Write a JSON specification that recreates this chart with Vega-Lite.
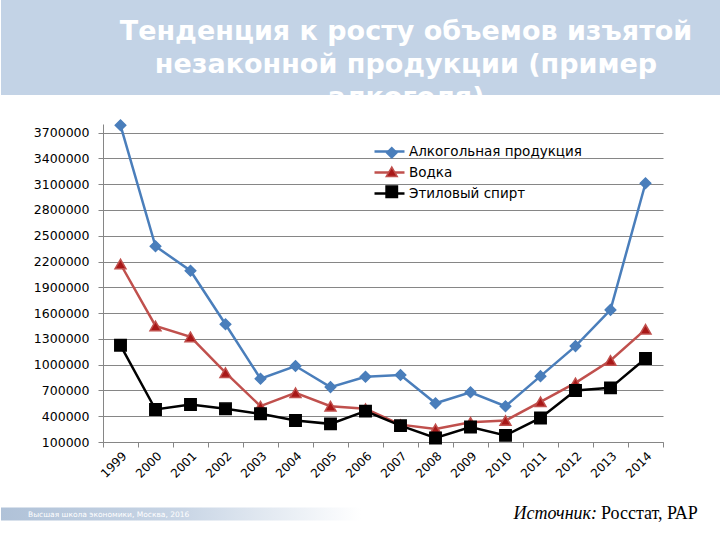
{
  "$schema": "https://vega.github.io/schema/vega-lite/v6.json",
  "padding": 0,
  "background": "#ffffff",
  "spacing": 24.5,
  "bounds": "full",
  "config": {"view": {"stroke": null}, "font": "DejaVu Sans"},
  "vconcat": [
    {
      "spacing": 22,
      "bounds": "full",
      "vconcat": [
        {
          "width": 720,
          "height": 95,
          "view": {"fill": "#c3d3e6", "stroke": null},
          "data": {"values": [{"title": "Тенденция к росту объемов изъятой\nнезаконной продукции (пример\nалкоголя)"}]},
          "mark": {"type": "text", "lineBreak": "\n", "font": "DejaVu Sans", "fontSize": 27, "fontWeight": "bold", "color": "#ffffff", "align": "center", "baseline": "top", "lineHeight": 33, "dx": 45, "dy": -29, "clip": true},
          "encoding": {"text": {"field": "title", "type": "nominal"}}
        },
        {
          "width": 662,
          "height": 318,
          "data": {"values": [
            {"year": "1999", "series": "Алкогольная продукция", "name": "Алкогольная продукция", "value": 3785000},
            {"year": "2000", "series": "Алкогольная продукция", "name": "Алкогольная продукция", "value": 2377000},
            {"year": "2001", "series": "Алкогольная продукция", "name": "Алкогольная продукция", "value": 2093000},
            {"year": "2002", "series": "Алкогольная продукция", "name": "Алкогольная продукция", "value": 1470000},
            {"year": "2003", "series": "Алкогольная продукция", "name": "Алкогольная продукция", "value": 836000},
            {"year": "2004", "series": "Алкогольная продукция", "name": "Алкогольная продукция", "value": 984000},
            {"year": "2005", "series": "Алкогольная продукция", "name": "Алкогольная продукция", "value": 739000},
            {"year": "2006", "series": "Алкогольная продукция", "name": "Алкогольная продукция", "value": 860000},
            {"year": "2007", "series": "Алкогольная продукция", "name": "Алкогольная продукция", "value": 880000},
            {"year": "2008", "series": "Алкогольная продукция", "name": "Алкогольная продукция", "value": 551000},
            {"year": "2009", "series": "Алкогольная продукция", "name": "Алкогольная продукция", "value": 679000},
            {"year": "2010", "series": "Алкогольная продукция", "name": "Алкогольная продукция", "value": 516000},
            {"year": "2011", "series": "Алкогольная продукция", "name": "Алкогольная продукция", "value": 866000},
            {"year": "2012", "series": "Алкогольная продукция", "name": "Алкогольная продукция", "value": 1216000},
            {"year": "2013", "series": "Алкогольная продукция", "name": "Алкогольная продукция", "value": 1637000},
            {"year": "2014", "series": "Алкогольная продукция", "name": "Алкогольная продукция", "value": 3111000},
            {"year": "1999", "series": "Водка", "name": "Водка", "value": 2171000},
            {"year": "2000", "series": "Водка", "name": "Водка", "value": 1451000},
            {"year": "2001", "series": "Водка", "name": "Водка", "value": 1323000},
            {"year": "2002", "series": "Водка", "name": "Водка", "value": 906000},
            {"year": "2003", "series": "Водка", "name": "Водка", "value": 517000},
            {"year": "2004", "series": "Водка", "name": "Водка", "value": 673000},
            {"year": "2005", "series": "Водка", "name": "Водка", "value": 517000},
            {"year": "2006", "series": "Водка", "name": "Водка", "value": 486000},
            {"year": "2007", "series": "Водка", "name": "Водка", "value": 302000},
            {"year": "2008", "series": "Водка", "name": "Водка", "value": 251000},
            {"year": "2009", "series": "Водка", "name": "Водка", "value": 329000},
            {"year": "2010", "series": "Водка", "name": "Водка", "value": 349000},
            {"year": "2011", "series": "Водка", "name": "Водка", "value": 567000},
            {"year": "2012", "series": "Водка", "name": "Водка", "value": 788000},
            {"year": "2013", "series": "Водка", "name": "Водка", "value": 1049000},
            {"year": "2014", "series": "Водка", "name": "Водка", "value": 1411000},
            {"year": "1999", "series": "Этиловый спирт", "name": "Этиловый спирт", "value": 1225000},
            {"year": "2000", "series": "Этиловый спирт", "name": "Этиловый спирт", "value": 478000},
            {"year": "2001", "series": "Этиловый спирт", "name": "Этиловый спирт", "value": 537000},
            {"year": "2002", "series": "Этиловый спирт", "name": "Этиловый спирт", "value": 486000},
            {"year": "2003", "series": "Этиловый спирт", "name": "Этиловый спирт", "value": 428000},
            {"year": "2004", "series": "Этиловый спирт", "name": "Этиловый спирт", "value": 350000},
            {"year": "2005", "series": "Этиловый спирт", "name": "Этиловый спирт", "value": 311000},
            {"year": "2006", "series": "Этиловый спирт", "name": "Этиловый спирт", "value": 459000},
            {"year": "2007", "series": "Этиловый спирт", "name": "Этиловый спирт", "value": 290000},
            {"year": "2008", "series": "Этиловый спирт", "name": "Этиловый спирт", "value": 146000},
            {"year": "2009", "series": "Этиловый спирт", "name": "Этиловый спирт", "value": 275000},
            {"year": "2010", "series": "Этиловый спирт", "name": "Этиловый спирт", "value": 177000},
            {"year": "2011", "series": "Этиловый спирт", "name": "Этиловый спирт", "value": 380000},
            {"year": "2012", "series": "Этиловый спирт", "name": "Этиловый спирт", "value": 699000},
            {"year": "2013", "series": "Этиловый спирт", "name": "Этиловый спирт", "value": 730000},
            {"year": "2014", "series": "Этиловый спирт", "name": "Этиловый спирт", "value": 1072000}
          ]},
          "encoding": {
            "x": {
              "field": "year", "type": "ordinal",
              "scale": {"type": "band", "paddingInner": 0, "paddingOuter": 0, "range": [102, 662]},
              "axis": {"title": null, "labelAngle": -45, "labelAlign": "right", "labelBaseline": "top", "labelFont": "DejaVu Sans", "labelFontSize": 12, "labelColor": "#000000", "tickBand": "extent", "tickSize": 5, "tickColor": "#868686", "domainColor": "#868686", "labelPadding": 3, "grid": false, "labelOverlap": false}
            },
            "y": {
              "field": "value", "type": "quantitative",
              "scale": {"domain": [100000, 3800000], "nice": false, "zero": false},
              "axis": {"title": null, "offset": -102, "values": [100000, 400000, 700000, 1000000, 1300000, 1600000, 1900000, 2200000, 2500000, 2800000, 3100000, 3400000, 3700000], "format": "d", "labelFont": "DejaVu Sans", "labelFontSize": 12.5, "labelColor": "#000000", "tickSize": 5, "tickColor": "#868686", "domainColor": "#868686", "gridColor": "#868686", "grid": true, "labelPadding": 9}
            }
          },
          "layer": [
            {
              "mark": {"type": "line", "strokeWidth": 2.5},
              "encoding": {
                "color": {
                  "field": "series", "type": "nominal",
                  "scale": {"range": ["#4a7ebb", "#c0504d", "#000000"]},
                  "legend": {
                    "title": null, "orient": "none", "legendX": 377, "legendY": 140, "padding": 0, "offset": 0,
                    "symbolType": "M-1.5,0H1.5", "symbolSize": 400, "symbolStrokeWidth": 2.5, "labelOffset": 8, "labelLimit": 400, "labelFont": "DejaVu Sans", "labelFontSize": 13.5, "labelColor": "#000000", "rowPadding": 3
                  }
                }
              }
            },
            {
              "mark": {"type": "point", "filled": true, "opacity": 1, "strokeWidth": 1.5},
              "encoding": {
                "fill": {
                  "field": "name", "type": "nominal",
                  "scale": {"domain": ["Алкогольная продукция", "Водка", "Этиловый спирт"], "range": ["#4a7ebb", "#a81818", "#000000"]},
                  "legend": {"title": null, "orient": "none", "legendX": 384, "legendY": 146, "padding": 0, "offset": 0, "symbolSize": 400, "symbolStrokeWidth": 1.5, "labelOffset": -40, "labelLimit": 8, "labelFontSize": 13.5, "labelOpacity": 0, "rowPadding": 3}
                },
                "stroke": {
                  "field": "name", "type": "nominal",
                  "scale": {"domain": ["Алкогольная продукция", "Водка", "Этиловый спирт"], "range": ["#4a7ebb", "#c0504d", "#000000"]},
                  "legend": {"title": null, "orient": "none", "legendX": 384, "legendY": 146, "padding": 0, "offset": 0, "symbolSize": 400, "symbolStrokeWidth": 1.5, "labelOffset": -40, "labelLimit": 8, "labelFontSize": 13.5, "labelOpacity": 0, "rowPadding": 3}
                },
                "shape": {
                  "field": "name", "type": "nominal",
                  "scale": {"domain": ["Алкогольная продукция", "Водка", "Этиловый спирт"], "range": ["diamond", "triangle-up", "square"]},
                  "legend": {"title": null, "orient": "none", "legendX": 384, "legendY": 146, "padding": 0, "offset": 0, "symbolSize": 400, "symbolStrokeWidth": 1.5, "labelOffset": -40, "labelLimit": 8, "labelFontSize": 13.5, "labelOpacity": 0, "rowPadding": 3}
                },
                "size": {
                  "field": "name", "type": "nominal",
                  "scale": {"domain": ["Алкогольная продукция", "Водка", "Этиловый спирт"], "range": [110, 130, 160]},
                  "legend": {"title": null, "orient": "none", "legendX": 384, "legendY": 146, "padding": 0, "offset": 0, "symbolSize": 400, "symbolStrokeWidth": 1.5, "labelOffset": -40, "labelLimit": 8, "labelFontSize": 13.5, "labelOpacity": 0, "rowPadding": 3}
                }
              }
            }
          ]
        }
      ]
    },
    {
      "width": 720,
      "height": 13,
      "data": {"values": [{"org": "Высшая школа экономики, Москва, 2016", "label": "Источник:", "source": "Росстат, РАР"}]},
      "layer": [
        {
          "mark": {"type": "rect", "fill": {"gradient": "linear", "x1": 0, "y1": 0, "x2": 1, "y2": 0, "stops": [{"offset": 0, "color": "#b0c2d8"}, {"offset": 0.25, "color": "#c8d5e5"}, {"offset": 0.5, "color": "#ffffff"}, {"offset": 1, "color": "#ffffff"}]}},
          "encoding": {}
        },
        {
          "mark": {"type": "text", "align": "left", "baseline": "middle", "dx": -333, "dy": 0.5, "font": "DejaVu Sans", "fontSize": 7.5, "color": "#ffffff"},
          "encoding": {"text": {"field": "org", "type": "nominal"}}
        },
        {
          "mark": {"type": "text", "align": "right", "baseline": "alphabetic", "dx": 236, "dy": 5, "font": "Liberation Serif", "fontStyle": "italic", "fontSize": 18, "color": "#000000"},
          "encoding": {"text": {"field": "label", "type": "nominal"}}
        },
        {
          "mark": {"type": "text", "align": "left", "baseline": "alphabetic", "dx": 240, "dy": 5, "font": "Liberation Serif", "fontSize": 18, "color": "#000000"},
          "encoding": {"text": {"field": "source", "type": "nominal"}}
        }
      ]
    }
  ]
}
